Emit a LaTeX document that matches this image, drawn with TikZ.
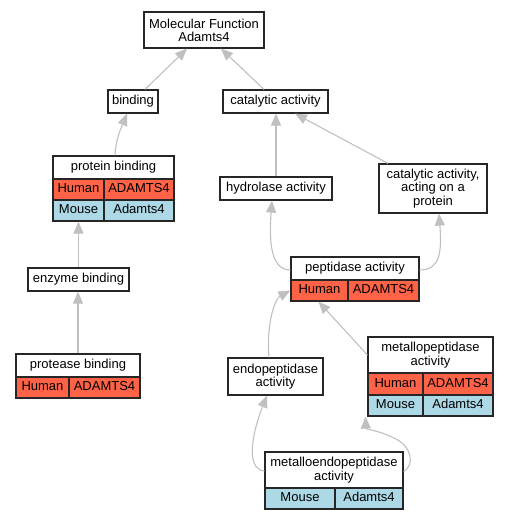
\documentclass[tikz,border=0pt]{standalone}
\usepackage{fontspec}
\setmainfont{Liberation Sans}
\usetikzlibrary{arrows.meta}
\definecolor{humanred}{RGB}{255,99,71}
\definecolor{mouseblue}{RGB}{173,216,230}
\definecolor{edgegray}{RGB}{192,192,192}
\newcommand\myfont{\fontsize{13pt}{13.3pt}\selectfont}
\begin{document}
\begin{tikzpicture}[x=1pt,y=-1pt,
 box/.style={draw=black!85, line width=1.2pt, fill=white, inner sep=0pt, align=center, font=\myfont},
 cell/.style={box, text height=9.4pt, text depth=2.6pt},
 human/.style={cell, fill=humanred},
 mouse/.style={cell, fill=mouseblue},
 edge/.style={draw=edgegray, line width=1.1pt, -{Triangle[length=12pt,width=10pt]}}]
\useasboundingbox (0,0) rectangle (509,520);
\node[box, minimum width=120pt, minimum height=36pt] (MF) at (204,30) {Molecular Function\\Adamts4};
\node[cell, minimum width=50pt, minimum height=23pt] (binding) at (133,101.5) {binding};
\node[cell, minimum width=105pt, minimum height=23pt] (catalytic) at (275.5,101.5) {catalytic activity};
\node[cell, minimum width=121pt, minimum height=23pt] (pbind) at (113.5,167.5) {protein binding};
\node[human, minimum width=51pt, minimum height=21pt] (phuman) at (78.5,189.5) {Human};
\node[human, minimum width=70pt, minimum height=21pt] (pgene1) at (139,189.5) {ADAMTS4};
\node[mouse, minimum width=51pt, minimum height=21pt] (pmouse) at (78.5,210.5) {Mouse};
\node[mouse, minimum width=70pt, minimum height=21pt] (pgene2) at (139,210.5) {Adamts4};
\node[cell, minimum width=112pt, minimum height=23pt] (hydrolase) at (276,188.5) {hydrolase activity};
\node[box, minimum width=108pt, minimum height=49pt] (catacting) at (433,188.5) {catalytic activity,\\acting on a\\protein};
\node[cell, minimum width=128pt, minimum height=23pt] (pep) at (355,268.5) {peptidase activity};
\node[human, minimum width=57pt, minimum height=21pt] (pephuman) at (319.5,290.5) {Human};
\node[human, minimum width=71pt, minimum height=21pt] (pepgene) at (383.5,290.5) {ADAMTS4};
\node[cell, minimum width=101pt, minimum height=23pt] (enzyme) at (78.5,279.5) {enzyme binding};
\node[cell, minimum width=124pt, minimum height=23pt] (prot) at (78,365.5) {protease binding};
\node[human, minimum width=53pt, minimum height=21pt] (prothuman) at (42.5,387.5) {Human};
\node[human, minimum width=71pt, minimum height=21pt] (protgene) at (104.5,387.5) {ADAMTS4};
\node[box, minimum width=95pt, minimum height=37pt] (endo) at (275.5,376.5) {endopeptidase\\activity};
\node[box, minimum width=125pt, minimum height=36pt] (mpep) at (430.5,355) {metallopeptidase\\activity};
\node[human, minimum width=55pt, minimum height=22pt] (mpephuman) at (395.5,384) {Human};
\node[human, minimum width=70pt, minimum height=22pt] (mpepgene1) at (458,384) {ADAMTS4};
\node[mouse, minimum width=55pt, minimum height=21pt] (mpepmouse) at (395.5,405.5) {Mouse};
\node[mouse, minimum width=70pt, minimum height=21pt] (mpepgene2) at (458,405.5) {Adamts4};
\node[box, minimum width=138pt, minimum height=36pt] (mendo) at (334,470) {metalloendopeptidase\\activity};
\node[mouse, minimum width=70pt, minimum height=21pt] (mendomouse) at (300,498.5) {Mouse};
\node[mouse, minimum width=68pt, minimum height=21pt] (mendogene) at (369,498.5) {Adamts4};
% edges
\draw[edge] ([xshift=12pt]binding.north) -- ([xshift=-17pt]MF.south);
\draw[edge] ([xshift=-11.5pt]catalytic.north) -- ([xshift=17pt]MF.south);
\draw[edge] ([xshift=1.5pt]pbind.north) to[out=87,in=-112] ([xshift=-6pt]binding.south);
\draw[edge] (hydrolase.north) -- (hydrolase.north |- catalytic.south);
\draw[edge] ([xshift=-45pt]catacting.north) -- ([xshift=19.5pt]catalytic.south);
\draw[edge] (enzyme.north) -- (pmouse.south);
\draw[edge] (prot.north) -- (prot.north |- enzyme.south);
\draw[edge] ([yshift=-1.5pt]pep.west) .. controls +(-20,0) and +(-3,40) .. ([xshift=-4pt]hydrolase.south);
\draw[edge] ([yshift=-1.5pt]pep.east) .. controls +(20,0) and +(3,40) .. ([xshift=6pt]catacting.south);
\draw[edge] ([xshift=-6.5pt]endo.north) .. controls +(-3,-35) and +(-15,8) .. (pephuman.west);
\draw[edge] (mpep.west) -- ([xshift=-1pt]pephuman.south);
\draw[edge] ([yshift=-1pt]mendo.west) .. controls +(-20,-2) and +(-14,35) .. ([xshift=-8.5pt]endo.south);
\draw[edge] ([yshift=-1.5pt]mendo.east) .. controls (414,466) and (413,448) .. (396,439) .. controls (376,429) and (366,430) .. ([xshift=-2pt]mpepmouse.south west);
\end{tikzpicture}
\end{document}
